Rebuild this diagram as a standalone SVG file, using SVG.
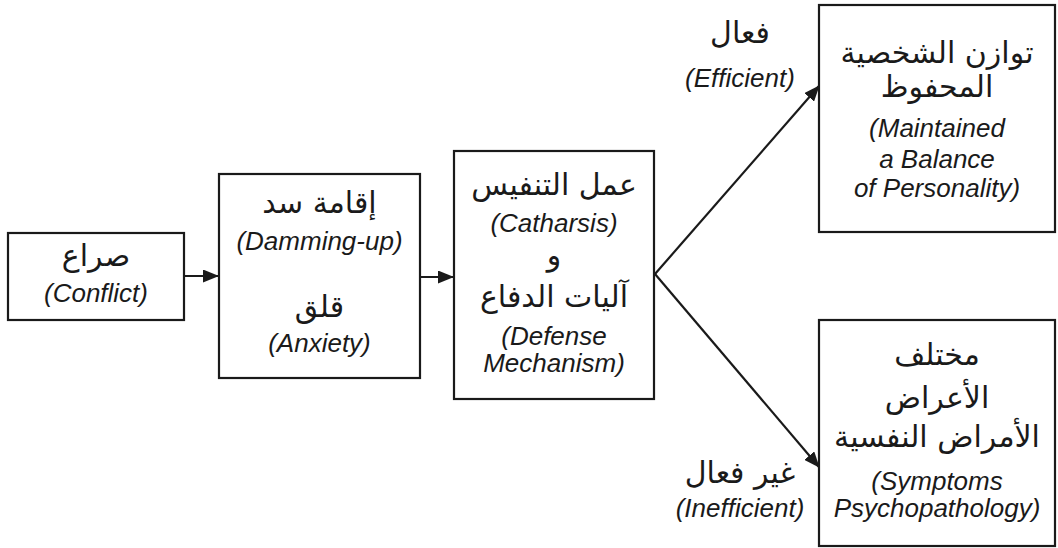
<svg xmlns="http://www.w3.org/2000/svg" width="1058" height="548" viewBox="0 0 1058 548">
<style>
.box{fill:#fff;stroke:#1a1a1a;stroke-width:2.2}
.en{font-family:"Liberation Sans",Arial,sans-serif;font-style:italic;font-size:26px;fill:#1a1a1a;text-anchor:middle}
.ar{font-family:"DejaVu Sans","Noto Sans",sans-serif;font-size:30px;fill:#1a1a1a;text-anchor:middle;direction:rtl}
.ln{stroke:#1a1a1a;stroke-width:2.2;fill:none}
</style>
<defs>
<marker id="ah" viewBox="0 0 16 13" refX="15" refY="6.5" markerWidth="16" markerHeight="13" markerUnits="userSpaceOnUse" orient="auto">
<path d="M0,0 L16,6.5 L0,13 Z" fill="#1a1a1a"/>
</marker>
</defs>
<rect width="1058" height="548" fill="#fff"/>
<g id="connectors">
<line class="ln" x1="184" y1="276" x2="218" y2="276" marker-end="url(#ah)"/>
<line class="ln" x1="420" y1="277" x2="453" y2="277" marker-end="url(#ah)"/>
<line class="ln" x1="655" y1="274" x2="819" y2="86" marker-end="url(#ah)"/>
<line class="ln" x1="655" y1="274" x2="819" y2="467" marker-end="url(#ah)"/>
</g>
<g id="conflict">
<rect class="box" x="8" y="233" width="176" height="87"/>
<text class="ar" x="96" y="266">صراع</text>
<text class="en" x="96" y="302">(Conflict)</text>
</g>
<g id="damming">
<rect class="box" x="219" y="174" width="201" height="204"/>
<text class="ar" x="319.5" y="213">إقامة سد</text>
<text class="en" x="319.5" y="250">(Damming-up)</text>
<text class="ar" x="319.5" y="317">قلق</text>
<text class="en" x="319.5" y="352">(Anxiety)</text>
</g>
<g id="catharsis">
<rect class="box" x="454" y="151" width="200" height="248"/>
<text class="ar" x="554" y="195">عمل التنفيس</text>
<text class="en" x="554" y="232">(Catharsis)</text>
<text class="ar" x="554" y="265">و</text>
<text class="ar" x="554" y="307">آليات الدفاع</text>
<text class="en" x="554" y="345">(Defense</text>
<text class="en" x="554" y="372">Mechanism)</text>
</g>
<g id="balance">
<rect class="box" x="819" y="5" width="236" height="227"/>
<text class="ar" x="937" y="63">توازن الشخصية</text>
<text class="ar" x="937" y="97">المحفوظ</text>
<text class="en" x="937" y="137">(Maintained</text>
<text class="en" x="937" y="168">a Balance</text>
<text class="en" x="937" y="197">of Personality)</text>
</g>
<g id="symptoms">
<rect class="box" x="819" y="320" width="236" height="226"/>
<text class="ar" x="937" y="365">مختلف</text>
<text class="ar" x="937" y="408">الأعراض</text>
<text class="ar" x="937" y="447">الأمراض النفسية</text>
<text class="en" x="937" y="490">(Symptoms</text>
<text class="en" x="937" y="517">Psychopathology)</text>
</g>
<g id="label-efficient">
<text class="ar" x="740" y="43">فعال</text>
<text class="en" x="740" y="87">(Efficient)</text>
</g>
<g id="label-inefficient">
<text class="ar" x="740" y="483">غير فعال</text>
<text class="en" x="740" y="517">(Inefficient)</text>
</g>
</svg>
